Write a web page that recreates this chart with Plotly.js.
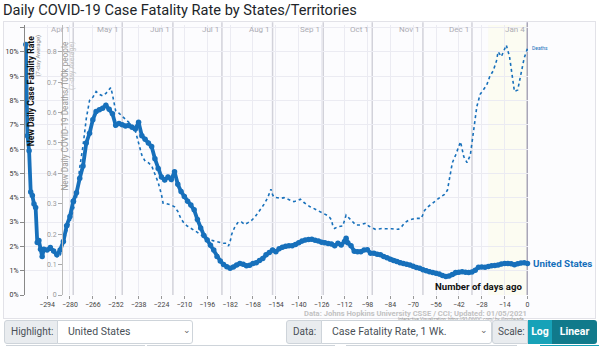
<!DOCTYPE html>
<html>
<head>
<meta charset="utf-8">
<script src="https://cdn.plot.ly/plotly-3.0.1.min.js"></script>
<style>
html,body{margin:0;padding:0;background:#fff;width:600px;height:346px;overflow:hidden;font-family:Roboto,"Open Sans",sans-serif;}
#title{position:absolute;left:3px;top:1px;font-size:14.6px;line-height:18px;color:#212529;white-space:nowrap;}
#box{position:absolute;left:3px;top:21px;width:591px;height:296px;border:1px solid #e2e2e8;background:#fcfcfe;}
#chart{position:absolute;left:0;top:0;width:600px;height:346px;}
.grp{position:absolute;top:320px;height:24px;font-size:10px;color:#495057;}
.lbl{position:absolute;top:0;height:22px;line-height:22px;background:#e9ecef;border:1px solid #ced4da;padding-left:6px;}
.sel{position:absolute;top:0;height:22px;line-height:22px;background:#fff;border:1px solid #ced4da;padding-left:10px;border-radius:0 3px 3px 0;font-size:10.5px;}
.chev{position:absolute;top:0;font-size:9px;color:#666;}
.btn{position:absolute;top:0;height:24px;line-height:24px;color:#fff;font-weight:bold;text-align:center;font-size:10.5px;}
.row2{position:absolute;top:345px;height:10px;border:1px solid #ced4da;background:#fff;}
</style>
</head>
<body>
<div id="box"></div>
<div id="title">Daily COVID-19 Case Fatality Rate by States/Territories</div>
<div id="chart"></div>

<div class="grp" style="left:4px;width:187px;">
  <div class="lbl" style="left:0;width:46px;border-radius:3px 0 0 3px;">Highlight:</div>
  <div class="sel" style="left:53px;width:124px;">United States</div>
  <div class="chev" style="left:179px;top:5px;">&#8964;</div>
</div>
<div class="grp" style="left:286px;width:203px;">
  <div class="lbl" style="left:0;width:28px;border-radius:3px 0 0 3px;">Data:</div>
  <div class="sel" style="left:35px;width:159px;">Case Fatality Rate, 1 Wk.</div>
  <div class="chev" style="left:194px;top:5px;">&#8964;</div>
</div>
<div class="grp" style="left:492px;width:105px;">
  <div class="lbl" style="left:0;width:29px;border-radius:3px 0 0 3px;padding-left:5px;">Scale:</div>
  <div class="btn" style="left:36px;width:24px;background:#17a2b8;">Log</div>
  <div class="btn" style="left:60px;width:45px;background:#117a8b;border-radius:0 3px 3px 0;">Linear</div>
</div>
<div class="row2" style="left:6px;width:137px;"></div>
<div class="row2" style="left:147px;width:186px;"></div>
<div class="row2" style="left:346px;width:169px;"></div>
<div class="row2" style="left:540px;width:57px;background:#17a2b8;border-color:#17a2b8;"></div>

<script>
// ---- data (days ago) ----
var cfrDays = [-307,-306,-305,-304,-303,-302,-301,-300,-299,-298,
  -297,-296,-294,-292,-290,-288,-286,-284,-282,-280,
  -278,-276,-274,-272,-270,-268,-266,-264,-262,-260,
  -258,-256,-254,-252,-250,-248,-246,-244,-242,-240,
  -238,-236,-234,-232,-230,-228,-226,-224,-222,-220,
  -218,-216,-214,-212,-210,-208,-206,-204,-202,-200,
  -198,-196,-194,-192,-190,-188,-186,-184,-182,-180,
  -178,-176,-174,-172,-170,-168,-166,-164,-162,-160,
  -158,-156,-154,-152,-150,-148,-146,-144,-142,-140,
  -138,-136,-134,-132,-130,-128,-126,-124,-122,-120,
  -118,-116,-114,-112,-111,-110,-108,-106,-104,-102,
  -100,-98,-96,-94,-92,-90,-88,-86,-84,-82,
  -80,-78,-76,-74,-72,-70,-68,-66,-64,-62,
  -60,-58,-56,-54,-52,-50,-48,-46,-44,-42,
  -40,-38,-36,-34,-32,-30,-28,-26,-24,-22,
  -20,-18,-16,-14,-12,-10,-8,-6,-4,-2,
  0];
var cfrValues = [10.3,6.55,5.93,4.23,4.09,3.74,3.6,2.16,2.24,1.88,
  1.58,1.88,1.85,1.95,1.81,1.65,1.85,2.2,2.85,3.23,
  3.85,4.2,4.8,5.3,6.25,6.65,7.2,7.54,7.62,7.68,
  7.8,7.64,7.45,6.98,7.05,7.0,6.95,6.97,6.9,6.82,
  7.1,6.55,6.4,6.25,6.1,5.6,5.2,4.85,4.73,4.85,
  4.75,5.07,4.55,4.25,4.05,3.85,3.7,3.5,3.1,2.75,
  2.45,2.26,2.05,1.85,1.58,1.4,1.25,1.16,1.1,1.15,
  1.23,1.3,1.26,1.2,1.22,1.3,1.33,1.42,1.5,1.65,
  1.75,1.85,1.78,1.9,1.96,2.0,2.02,2.02,2.08,2.15,
  2.22,2.26,2.28,2.29,2.25,2.22,2.17,2.15,2.12,2.1,
  2.02,2.13,2.06,2.2,2.33,2.15,2.02,1.8,1.78,1.78,
  1.85,1.86,1.72,1.72,1.68,1.65,1.58,1.53,1.47,1.42,
  1.38,1.33,1.3,1.26,1.23,1.18,1.13,1.1,1.04,1.0,
  0.96,0.92,0.89,0.86,0.8,0.76,0.78,0.84,0.92,0.94,
  0.96,0.94,0.92,0.95,1.02,1.14,1.15,1.14,1.17,1.2,
  1.21,1.23,1.27,1.3,1.3,1.28,1.24,1.28,1.32,1.33,
  1.3];

var deathDays = [-286,-284,-282,-280,-278,-276,-274,-272,-270,-268,
  -266,-264,-262,-260,-258,-256,-255,-254,-253,-252,
  -250,-248,-246,-244,-242,-240,-238,-236,-234,-232,
  -230,-228,-226,-224,-223,-222,-220,-218,-216,-214,
  -212,-210,-208,-206,-204,-202,-200,-198,-196,-194,
  -192,-190,-188,-186,-184,-183,-182,-181,-179,-177,
  -175,-173,-171,-169,-167,-165,-163,-161,-159,-157,
  -156,-155,-153,-151,-149,-147,-145,-143,-141,-139,
  -137,-135,-133,-131,-129,-127,-125,-123,-121,-120,
  -119,-118,-116,-114,-113,-111,-109,-107,-105,-103,
  -101,-99,-97,-95,-93,-91,-89,-87,-85,-83,
  -81,-79,-77,-75,-73,-71,-69,-67,-65,-63,
  -61,-59,-57,-55,-53,-51,-49,-48,-46,-44,
  -42,-41,-39,-37,-35,-33,-31,-29,-27,-25,
  -23,-21,-19,-18,-16,-14,-13,-11,-9,-8,
  -6,-4,-2,0];
var deathValues = [0.13,0.17,0.21,0.24,0.28,0.32,0.42,0.49,0.58,0.64,
  0.65,0.669,0.66,0.655,0.663,0.675,0.682,0.66,0.63,0.605,
  0.598,0.588,0.58,0.57,0.558,0.54,0.5,0.46,0.44,0.435,
  0.425,0.4,0.37,0.33,0.302,0.302,0.3,0.296,0.29,0.275,
  0.25,0.235,0.226,0.22,0.214,0.206,0.198,0.192,0.186,0.181,
  0.178,0.175,0.172,0.17,0.17,0.161,0.175,0.2,0.225,0.24,
  0.24,0.232,0.238,0.245,0.255,0.27,0.285,0.3,0.32,0.348,
  0.33,0.321,0.32,0.318,0.32,0.315,0.31,0.307,0.31,0.315,
  0.305,0.296,0.29,0.285,0.28,0.274,0.268,0.263,0.255,0.247,
  0.225,0.219,0.225,0.226,0.227,0.263,0.252,0.24,0.23,0.23,
  0.233,0.236,0.226,0.222,0.216,0.217,0.219,0.218,0.219,0.218,
  0.216,0.216,0.225,0.238,0.245,0.248,0.252,0.252,0.252,0.278,
  0.29,0.298,0.308,0.315,0.323,0.33,0.345,0.373,0.435,0.46,
  0.49,0.504,0.455,0.435,0.46,0.54,0.62,0.66,0.675,0.69,
  0.72,0.737,0.77,0.8,0.784,0.806,0.822,0.784,0.696,0.669,
  0.674,0.729,0.78,0.811];

var xTickVals = [-294,-280,-266,-252,-238,-224,-210,-196,-182,-168,-154,-140,-126,-112,-98,-84,-70,-56,-42,-28,-14,0];
var cfrTickVals = [0,1,2,3,4,5,6,7,8,9,10,11];
var cfrTickText = ['0%','1%','2%','3%','4%','5%','6%','7%','8%','9%','10%',''];
var deathTickVals = [0,0.1,0.2,0.3,0.4,0.5,0.6,0.7,0.8];
var deathTickText = ['0','0.1','0.2','0.3','0.4','0.5','0.6','0.7','0.8'];
var monthLabels = ['Apr 1','May 1','Jun 1','Jul 1','Aug 1','Sep 1','Oct 1','Nov 1','Dec 1','Jan 4'];
var monthDays = [-278,-248,-217,-187,-156,-125,-95,-64,-34,0];
var shadeStart = -24, shadeEnd = 0;
var seriesName = 'United States';

// ---- build ----
var BLUE = '#1770bb';
var traces = [
  {x: deathDays, y: deathValues, yaxis: 'y2', type: 'scatter', mode: 'lines',
   line: {color: BLUE, width: 1.6, dash: 'dot'}, hoverinfo: 'skip', cliponaxis: false},
  {x: cfrDays, y: cfrValues, type: 'scatter', mode: 'lines+markers',
   line: {color: BLUE, width: 3.8}, marker: {color: BLUE, size: 5.5}, cliponaxis: false}
];

var shapes = [{type: 'rect', xref: 'x', yref: 'paper', x0: shadeStart, x1: shadeEnd, y0: 0, y1: 1,
  fillcolor: 'rgba(252,252,230,0.5)', line: {width: 0}, layer: 'below'}];
monthDays.forEach(function (d, i) {
  var last = i === monthDays.length - 1;
  shapes.push({type: 'line', xref: 'x', yref: 'paper', x0: d, x1: d, y0: 0, y1: 1.01,
    line: {color: last ? '#a9a6b8' : '#d2d2da', width: last ? 2 : 1.5}, layer: 'below'});
});

var annotations = [];
monthDays.forEach(function (d, i) {
  annotations.push({xref: 'x', yref: 'paper', x: d, y: 0.985, xanchor: 'right', yanchor: 'middle',
    xshift: -1, text: monthLabels[i], showarrow: false, font: {size: 8, color: '#acacb4', family: 'Roboto'}});
});
annotations.push(
  {xref: 'paper', yref: 'paper', x: 0.0125, y: 0.967, xanchor: 'center', yanchor: 'top', textangle: -90,
   text: '<b>New Daily Case Fatality Rate</b>', showarrow: false, font: {size: 8.6, color: '#111', family: 'Roboto'}},
  {xref: 'paper', yref: 'paper', x: 0.0257, y: 0.972, xanchor: 'center', yanchor: 'top', textangle: -90,
   text: '(7-day Average)', showarrow: false, font: {size: 6, color: '#8a8a8a', family: 'Roboto'}},
  {xref: 'paper', yref: 'paper', x: 0.0795, y: 0.948, xanchor: 'center', yanchor: 'top', textangle: -90,
   text: 'New Daily COVID-19 Deaths/100k people', showarrow: false, font: {size: 8.2, color: '#999', family: 'Roboto'}},
  {xref: 'paper', yref: 'paper', x: 0.0925, y: 0.948, xanchor: 'center', yanchor: 'top', textangle: -90,
   text: '(7-day Average)', showarrow: false, font: {size: 7, color: '#c4c4c4', family: 'Roboto'}},
  {xref: 'paper', yref: 'paper', x: 0.992, y: 0.03, xanchor: 'right', yanchor: 'middle',
   text: '<b>Number of days ago</b>', showarrow: false, font: {size: 9.6, color: '#111', family: 'Roboto'}},
  {xref: 'x', yref: 'y', x: cfrDays[cfrDays.length - 1], y: cfrValues[cfrValues.length - 1], xanchor: 'left', yanchor: 'middle',
   xshift: 3, text: '<b>' + seriesName + '</b>', showarrow: false, font: {size: 9.8, color: BLUE, family: 'Roboto'}},
  {xref: 'x', yref: 'y2', x: deathDays[deathDays.length - 1], y: deathValues[deathValues.length - 1], xanchor: 'left', yanchor: 'middle',
   xshift: 2, text: 'Deaths', showarrow: false, font: {size: 5, color: BLUE, family: 'Roboto'}},
  {xref: 'paper', yref: 'paper', x: 1.0, y: -0.0685, xanchor: 'right', yanchor: 'middle', borderpad: 0,
   text: '<b>Data: Johns Hopkins University CSSE / CCI; Updated: 01/05/2021</b>', showarrow: false, font: {size: 7.6, color: '#c2c2c2', family: 'Roboto'}},
  {xref: 'paper', yref: 'paper', x: 1.0, y: -0.0905, xanchor: 'right', yanchor: 'middle', borderpad: 0,
   text: 'Interactive Visualization: https://91-DIVOC.com/ by @profwade_', showarrow: false, font: {size: 4.5, color: '#999', family: 'Roboto'}}
);

var layout = {
  width: 600, height: 346,
  margin: {l: 25, r: 72, t: 25, b: 51, pad: 0},
  paper_bgcolor: 'rgba(0,0,0,0)', plot_bgcolor: 'rgba(0,0,0,0)',
  showlegend: false,
  font: {family: 'Roboto, sans-serif'},
  xaxis: {range: [-307.5, 0.3], tickmode: 'array', tickvals: xTickVals, ticks: 'outside', ticklen: 3,
    tickcolor: '#999', tickfont: {size: 7, color: '#444'}, showgrid: true, gridcolor: '#ebebf2', gridwidth: 1,
    zeroline: false, showline: false, fixedrange: true},
  yaxis: {range: [0, 11.1], tickmode: 'array', tickvals: cfrTickVals, ticktext: cfrTickText, ticks: 'outside',
    ticklen: 4, tickcolor: '#888', tickfont: {size: 7, color: '#333'}, showgrid: true, gridcolor: '#ebebf2',
    zeroline: false, showline: true, linecolor: '#888', linewidth: 1, fixedrange: true},
  yaxis2: {range: [0, 0.888], overlaying: 'y', side: 'left', anchor: 'free', position: 0.0736,
    tickmode: 'array', tickvals: deathTickVals, ticktext: deathTickText, ticks: 'outside', ticklen: 4,
    tickcolor: '#aaa', tickfont: {size: 7, color: '#999'}, showgrid: false, zeroline: false,
    showline: true, linecolor: '#bbb', linewidth: 1, fixedrange: true},
  shapes: shapes,
  annotations: annotations
};

Plotly.newPlot('chart', traces, layout, {displayModeBar: false, staticPlot: true});
</script>
</body>
</html>
